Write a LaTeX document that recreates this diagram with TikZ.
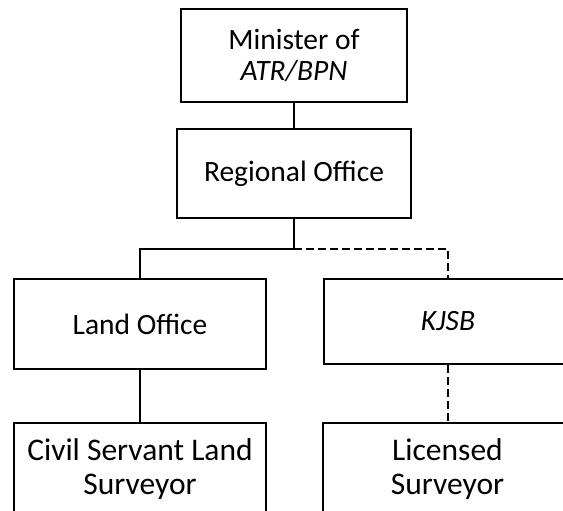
\documentclass[tikz,border=0pt]{standalone}
\usepackage{fontspec}
\setmainfont{Carlito}
\begin{document}
\begin{tikzpicture}[x=1pt,y=-1pt,
  box/.style={draw,line width=2.4pt,inner sep=0pt,align=center,
    font=\fontsize{29.5}{31}\selectfont},
  bigbox/.style={box,font=\fontsize{31.5}{34.5}\selectfont},
  conn/.style={line width=2.4pt},
  dconn/.style={line width=2.4pt,dash pattern=on 8pt off 4pt}]
\clip (0,0) rectangle (563,511);
\fill[white] (0,0) rectangle (563,511);
\node[box,minimum width=225.5pt,minimum height=93pt] (min) at (294,55.5) {Minister of\\\textit{ATR/BPN}};
\node[box,minimum width=234pt,minimum height=89pt] (reg) at (294,173.5) {Regional Office};
\node[box,minimum width=252pt,minimum height=90pt] (land) at (140,324) {Land Office};
\node[box,minimum width=248pt,minimum height=85pt] (kjsb) at (448,321.5) {\textit{KJSB}};
\node[bigbox,minimum width=252pt,minimum height=92pt] (civ) at (140,469) {Civil Servant Land\\Surveyor};
\node[bigbox,minimum width=249pt,minimum height=92pt] (lic) at (447.5,469) {Licensed\\Surveyor};
\coordinate (j) at (294,249);
\draw[conn] (min.south) -- (reg.north);
\draw[conn] (reg.south) -- (j) -| (land.north);
\draw[dconn] (j) -| (kjsb.north);
\draw[conn] (land.south) -- (civ.north);
\draw[dconn] (kjsb.south) -- (kjsb.south |- lic.north);
\end{tikzpicture}
\end{document}
